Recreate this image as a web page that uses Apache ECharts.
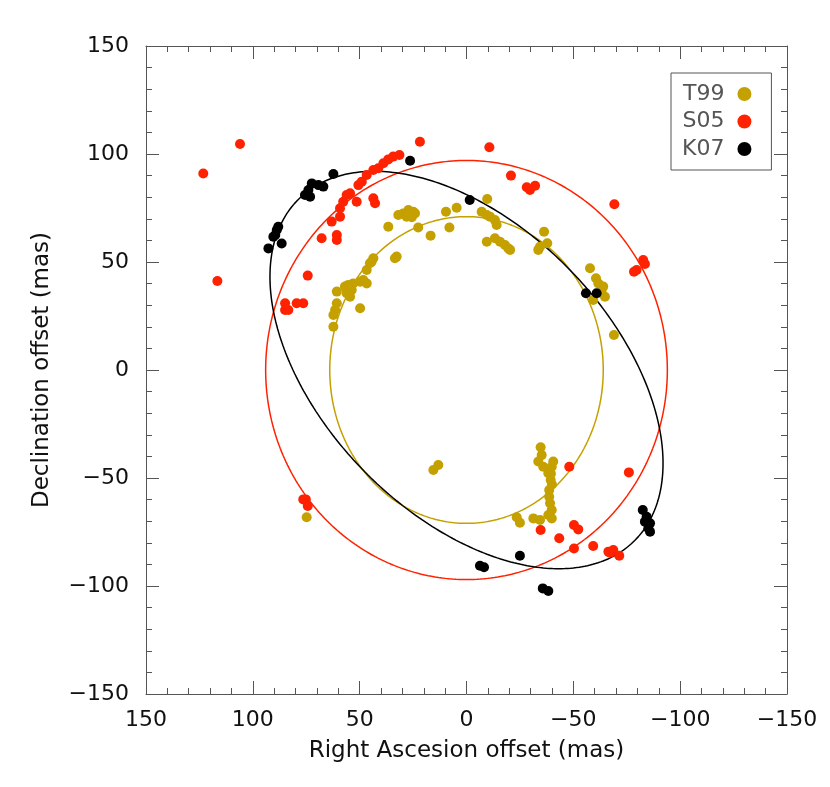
<!DOCTYPE html>
<html>
<head>
<meta charset="utf-8">
<script src="https://cdn.jsdelivr.net/npm/echarts@6/dist/echarts.min.js"></script>
<style>html,body{margin:0;padding:0;background:#fff}#c{width:830px;height:787px}</style>
</head>
<body>
<div id="c"></div>
<script>
// tick values
const xTicks = [150, 100, 50, 0, -50, -100, -150];
const yTicks = [-150, -100, -50, 0, 50, 100, 150];

// T99 points [RA offset, Dec offset] (mas)
const t99 = [
[74.8,-68.2],[15.5,-46.3],[13.2,-44],
[31.9,71.8],[29.6,72.5],[27.2,74.1],[24.9,73.3],[28,71],[25.6,70.7],[24.1,72.5],[36.6,66.3],[22.6,66],[16.8,62.2],[9.6,73.3],[4.6,75.1],[8,66],
[32.7,52.5],[33.5,51.7],[43.6,51.7],[45.2,49.4],[46.7,46.3],[46.7,40.1],[49.8,40.9],[53,40.1],[55.3,39.4],[53.7,37],[56.1,35.5],[56.9,38.6],[54.5,33.9],[60.7,36.3],[49.8,28.6],[60.7,30.9],[61.5,27.8],[62.3,25.5],[62.3,20],[48.3,41.7],[44.4,50.1],
[-9.7,79.2],[-7.1,73.3],[-9.5,71.8],[-11,71],[-13.3,69.4],[-14.1,67.1],[-9.5,59.4],[-13.3,61],[-15.7,59.4],[-18,57.9],[-19.6,56.3],[-20.4,55.6],
[-36.3,64],[-37.8,58.7],[-34.4,57.1],[-33.6,55.6],[-57.8,47.1],[-60.6,42.5],[-61.7,40.1],[-64,38.6],[-64.8,33.9],[-59.3,32.4],[-69,16.2],[-63.3,35.5],
[-34.7,-35.8],[-35.2,-39.4],[-33.6,-42.4],[-40.6,-42.4],[-39.9,-44.8],[-38.3,-47.8],[-39.4,-50.9],[-38.7,-55.6],[-38.7,-58.7],[-39.1,-61.7],[-39.9,-64.8],[-38.3,-67.1],[-39.9,-68.7],[-34.4,-69.4],[-31.3,-68.7],[-23.5,-68.2],[-25,-70.7],[-35.9,-44.8],[-40,-53],[-39.5,-48]
];

// S05 points
const s05 = [
[21.8,105.7],[31.4,99.5],[34.3,98.8],[36.6,97.5],[38.9,95.7],[41.3,93.4],[43.6,92.6],[46.7,90.3],[49,87.2],[50.6,85.6],[43.6,79.5],[42.8,77.2],[54.5,81.8],[56.1,81],[51.4,77.9],[57.7,77.9],[59.2,74.9],[59.2,71],[63.1,68.7],[60.7,62.5],[60.7,60.2],[67.8,61],[74.3,43.7],[76.4,30.9],[79.5,30.9],[84.9,30.9],[84.9,27.8],[83.4,27.8],
[106,104.6],[123.2,91],[116.6,41.2],
[-10.7,103.1],[-20.8,90],[-28.2,84.6],[-32.1,85.3],[-29.7,83.3],[-69.2,76.7],[-82.7,50.9],[-83.5,49.1],[-79.6,46.3],[-78.4,45.5],
[-48.1,-44.8],[-76,-47.4],[-34.7,-74.1],[-43.4,-77.9],[-50.3,-71.8],[-52.3,-73.8],[-50.3,-82.6],[-59.3,-81.5],[-66.4,-84.1],[-68.7,-83.3],[-71.5,-86],[-67.2,-84.6],
[75.2,-59.9],[74.3,-63],[76.4,-59.9]
];

// K07 points
const k07 = [
[26.4,96.9],[62.3,90.7],[67,84.9],[69.3,85.6],[72.4,86.4],[74,83.3],[75.6,81],[73.2,80.2],[88.1,66.3],[88.8,64.8],[90.4,61.7],[86.5,58.6],[92.7,56.3],[89.5,62.5],
[-1.5,78.7],[-55.9,35.5],[-60.9,35.5],[-25,-86],[-6.3,-90.6],[-8.2,-91.3],[-35.7,-101.1],[-38.3,-102.3],
[-82.5,-64.8],[-84.3,-67.9],[-85.9,-71],[-85.1,-73.3],[-85.9,-74.9],[-83.5,-70.2]
];

// fitted ellipses: [centerX, centerY, semiAxis1, semiAxis2, angleDeg]
const ellT99 = [0, 0, 64, 71, 0];
const ellS05 = [0, 0, 94, 97, 0];
const ellK07 = [0, 0, 111.5, 67, 45];

const GOLD = '#C4A000', RED = '#FF2200', BLACK = '#000000';

function ellipse(p) {
  const [cx, cy, a, b, ang] = p;
  const th = ang * Math.PI / 180;
  const pts = [];
  for (let i = 0; i <= 360; i++) {
    const t = i * Math.PI / 180;
    const u = a * Math.cos(t), v = b * Math.sin(t);
    pts.push([cx + u * Math.cos(th) - v * Math.sin(th), cy + u * Math.sin(th) + v * Math.cos(th)]);
  }
  return pts;
}

const FONT = 'DejaVu Sans';
const AX = '#555';
const TXT = '#111';
function axisCommon(showLabels, margin) {
  return {
    type: 'value', min: -150, max: 150, interval: 50,
    axisLine: { show: true, onZero: false, lineStyle: { color: AX, width: 1 } },
    axisTick: { show: true, inside: true, length: 13, lineStyle: { color: AX } },
    minorTick: { show: true, splitNumber: 5, length: 6, lineStyle: { color: AX } },
    splitLine: { show: false },
    axisLabel: { show: showLabels, color: TXT, fontFamily: FONT, fontSize: 22, margin: margin || 8,
      formatter: v => (v < 0 ? '\u2212' + Math.abs(v) : '' + v) }
  };
}

const chart = echarts.init(document.getElementById('c'), null, { renderer: 'canvas' });
chart.setOption({
  backgroundColor: '#fff',
  animation: false,
  grid: { left: 146, top: 46, width: 641, height: 648 },
  xAxis: [
    Object.assign(axisCommon(true, 15), { inverse: true, position: 'bottom',
      name: 'Right Ascesion offset (mas)', nameLocation: 'middle', nameGap: 46,
      nameTextStyle: { color: TXT, fontFamily: FONT, fontSize: 23 } }),
    Object.assign(axisCommon(false), { inverse: true, position: 'top' })
  ],
  yAxis: [
    Object.assign(axisCommon(true, 17), { position: 'left',
      name: 'Declination offset (mas)', nameLocation: 'middle', nameGap: 92,
      nameTextStyle: { color: TXT, fontFamily: FONT, fontSize: 23 } }),
    Object.assign(axisCommon(false), { position: 'right' })
  ],
  legend: {
    orient: 'vertical', left: 671, top: 73, align: 'right',
    data: ['T99', 'S05', 'K07'], icon: 'circle', itemWidth: 14, itemHeight: 14, itemGap: 5.5,
    borderColor: '#555', borderWidth: 1, padding: [10, 20, 10, 11],
    textStyle: { color: '#555', fontFamily: FONT, fontSize: 22, padding: [0, 8, 0, 0] }
  },
  series: [
    { name: 'ellT99', type: 'line', data: ellipse(ellT99), showSymbol: false, symbol: 'none', silent: true,
      lineStyle: { color: GOLD, width: 1.5 }, z: 1 },
    { name: 'ellS05', type: 'line', data: ellipse(ellS05), showSymbol: false, symbol: 'none', silent: true,
      lineStyle: { color: RED, width: 1.5 }, z: 1 },
    { name: 'ellK07', type: 'line', data: ellipse(ellK07), showSymbol: false, symbol: 'none', silent: true,
      lineStyle: { color: BLACK, width: 1.5 }, z: 1 },
    { name: 'T99', type: 'scatter', data: t99, symbolSize: 10, itemStyle: { color: GOLD, opacity: 1 }, z: 2 },
    { name: 'S05', type: 'scatter', data: s05, symbolSize: 10, itemStyle: { color: RED, opacity: 1 }, z: 3 },
    { name: 'K07', type: 'scatter', data: k07, symbolSize: 10, itemStyle: { color: BLACK, opacity: 1 }, z: 4 }
  ]
});
</script>
</body>
</html>
